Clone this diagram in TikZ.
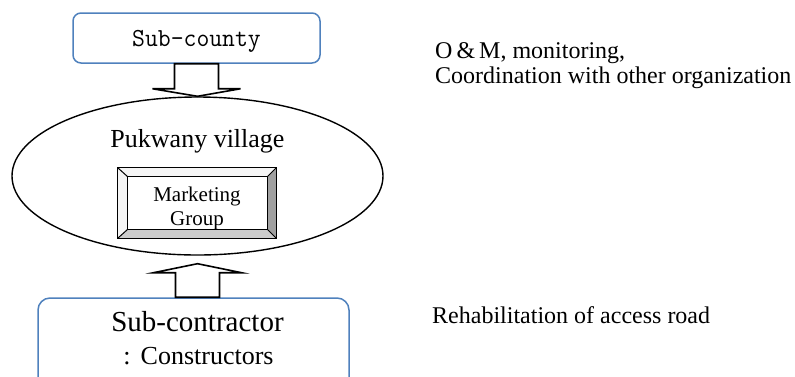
\documentclass[tikz,border=0pt]{standalone}
\usepackage{fontspec}
\setmainfont{Liberation Serif}
\usetikzlibrary{shapes.geometric,calc}
\definecolor{boxblue}{RGB}{79,129,189}
\definecolor{bevelright}{RGB}{160,160,160}
\definecolor{bevelbottom}{RGB}{204,204,204}
\definecolor{beveltop}{RGB}{245,245,245}

\begin{document}
\begin{tikzpicture}[x=1pt,y=-1pt,
  bluebox/.style={draw=boxblue,line width=1.5pt,rounded corners=8pt,fill=white,inner sep=0pt},
  blockarrow/.style={draw=black,line width=1.6pt,fill=white,line join=miter},
  sidetext/.style={inner sep=0pt,anchor=base west,font=\fontsize{24}{28}\selectfont},
  bevelline/.style={draw=black,line width=1pt}]
\useasboundingbox (0,0) rectangle (795,376);
\clip (0,0) rectangle (795,376);

% upper authority
\node[bluebox,minimum width=247pt,minimum height=50pt,text height=16pt,text depth=0pt,
      font=\fontsize{26}{30}\ttfamily] (subcounty) at (196.5,38) {\scalebox{0.96}[1]{Sub-county}};

% village
\node[draw,ellipse,line width=1.4pt,minimum width=371pt,minimum height=158pt,inner sep=0pt]
  (village) at (197.5,176) {};
\node[anchor=base,inner sep=0pt,font=\fontsize{26}{30}\selectfont] (villagename)
  at ($(village.center)+(0,-29)$) {Pukwany village};

% bevelled group box
\node[minimum width=158pt,minimum height=70pt,inner sep=0pt] (mktframe) at (197,203) {};
\coordinate (inw) at ($(mktframe.north west)+(10,9)$);
\coordinate (ine) at ($(mktframe.north east)+(-9,9)$);
\coordinate (isw) at ($(mktframe.south west)+(10,-9)$);
\coordinate (ise) at ($(mktframe.south east)+(-9,-9)$);
\fill[beveltop] (mktframe.north west) -- (mktframe.north east) -- (ine) -- (inw) -- cycle;
\fill[beveltop] (mktframe.north west) -- (inw) -- (isw) -- (mktframe.south west) -- cycle;
\fill[bevelright] (mktframe.north east) -- (mktframe.south east) -- (ise) -- (ine) -- cycle;
\fill[bevelbottom] (mktframe.south west) -- (isw) -- (ise) -- (mktframe.south east) -- cycle;
\draw[bevelline] (mktframe.north west) rectangle (mktframe.south east);
\draw[bevelline] (inw) rectangle (ise);
\draw[bevelline] (mktframe.north west) -- (inw) (mktframe.north east) -- (ine)
                 (mktframe.south west) -- (isw) (mktframe.south east) -- (ise);
\node[align=center,inner sep=0pt,font=\fontsize{21}{24}\selectfont] (mkt)
  at ($(mktframe.center)+(0,5)$) {Marketing\\Group};

% contractor
\node[bluebox,rounded corners=12pt,minimum width=311pt,minimum height=110pt] (subcon) at (193.5,353) {};
\node[anchor=base,inner sep=0pt,font=\fontsize{29}{32}\selectfont] (subconname)
  at ($(subcon.north)+(4,34)$) {Sub-contractor};
\node[anchor=base west,inner sep=0pt,font=\fontsize{26}{30}\selectfont] (subconrole)
  at ($(subcon.north west)+(86,67)$) {:\kern10pt Constructors};

% block arrows
\draw[blockarrow] ($(subcounty.south)+(-22,0)$) -- ($(subcounty.south)+(-22,25)$)
  -- ($(subcounty.south)+(-44,25)$) -- (village.north) -- ($(subcounty.south)+(44,25)$)
  -- ($(subcounty.south)+(22,25)$) -- ($(subcounty.south)+(22,0)$) -- cycle;

\coordinate (uptip) at ($(village.south)+(0,8)$);
\coordinate (upbase) at (uptip |- subcon.north);
\draw[blockarrow] ($(upbase)+(-22,0)$) -- ($(uptip)+(-22,9)$) -- ($(uptip)+(-44,9)$)
  -- (uptip) -- ($(uptip)+(44,9)$) -- ($(uptip)+(22,9)$) -- ($(upbase)+(22,0)$) -- cycle;

% roles
\node[sidetext] (role1) at (435,58) {O\,\&\,M, monitoring,};
\node[sidetext] (role2) at (435,83) {Coordination with other organization};
\node[sidetext] (role3) at (432,323) {Rehabilitation of access road};
\end{tikzpicture}
\end{document}
